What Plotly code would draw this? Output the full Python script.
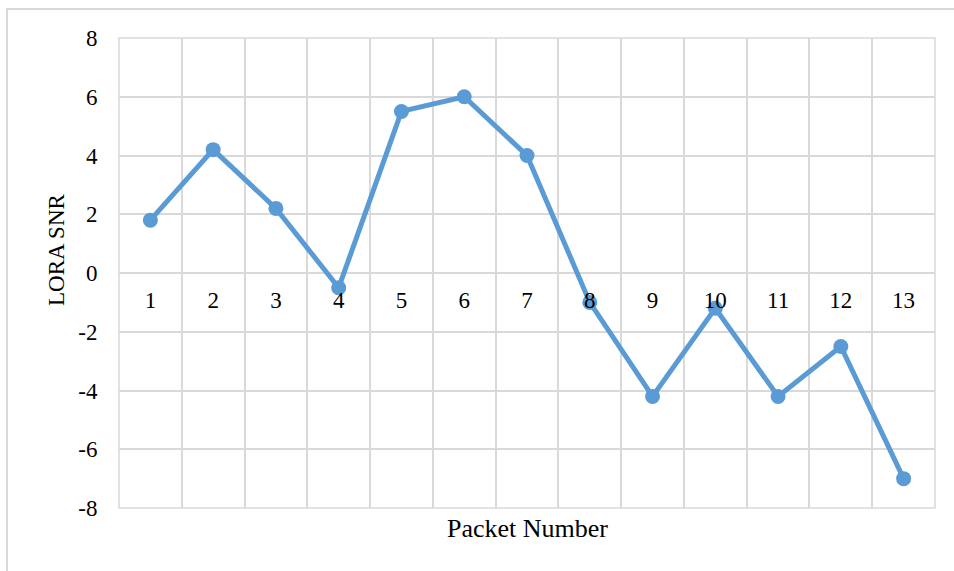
import plotly.graph_objects as go

# Packet index and measured LoRa SNR per packet
packets = list(range(1, 14))
snr = [1.8, 4.2, 2.2, -0.5, 5.5, 6.0, 4.0, -1.0, -4.2, -1.2, -4.2, -2.5, -7.0]
y_ticks = [-8, -6, -4, -2, 0, 2, 4, 6, 8]
x_labels = [str(p) for p in packets]

blue = "#5B9BD5"
grid = "#D9D9D9"
font = "Liberation Serif"

fig = go.Figure()
fig.add_trace(go.Scatter(
    x=packets, y=snr, mode="lines+markers",
    line=dict(color=blue, width=5),
    marker=dict(color=blue, size=15),
    hoverinfo="skip", showlegend=False,
))

W, H = 954, 571
L, R, T, B = 119, 935, 38, 508
pw, ph = R - L, B - T

def px(x):
    return (x - L) / pw

def py(y):
    return (B - y) / ph

fig.update_layout(
    width=W, height=H,
    margin=dict(l=L, r=W - R, t=T, b=H - B),
    paper_bgcolor="white", plot_bgcolor="white",
    font=dict(family=font, color="black", size=23),
    xaxis=dict(
        range=[0.5, 13.5], tickmode="array", tickvals=packets, ticktext=x_labels,
        showgrid=False, zeroline=False,
        anchor="free", position=0.5,
        showline=False, ticks="outside", ticklen=6, tickcolor="rgba(0,0,0,0)",
        minor=dict(tickvals=[i + 0.5 for i in range(0, 14)], showgrid=True,
                   gridcolor=grid, gridwidth=1.5, ticks=""),
        tickfont=dict(size=23, family=font, color="black"),
        fixedrange=True,
    ),
    yaxis=dict(
        range=[-8, 8], tickmode="array", tickvals=y_ticks,
        ticktext=[str(v) for v in y_ticks],
        showgrid=True, gridcolor=grid, gridwidth=1.5,
        zeroline=False, showline=False,
        ticks="outside", ticklen=16, tickcolor="rgba(0,0,0,0)",
        tickfont=dict(size=23, family=font, color="black"),
        fixedrange=True,
    ),
    shapes=[
        # plot area border
        dict(type="rect", xref="paper", yref="paper", x0=0, x1=1, y0=0, y1=1,
             line=dict(color=grid, width=1.5), layer="below"),
        # outer chart frame
        dict(type="rect", xref="paper", yref="paper",
             x0=px(7), x1=px(975), y0=py(590), y1=py(9),
             line=dict(color=grid, width=2), layer="below"),
    ],
    annotations=[
        dict(text="Packet Number", xref="paper", yref="paper",
             x=px(527), y=py(528), xanchor="center", yanchor="middle",
             showarrow=False, font=dict(size=26, family=font, color="black")),
        dict(text="LORA SNR", xref="paper", yref="paper", textangle=-90,
             x=px(56), y=py(250), xanchor="center", yanchor="middle",
             showarrow=False, font=dict(size=23, family=font, color="black")),
    ],
)

fig.write_html("out.html")
